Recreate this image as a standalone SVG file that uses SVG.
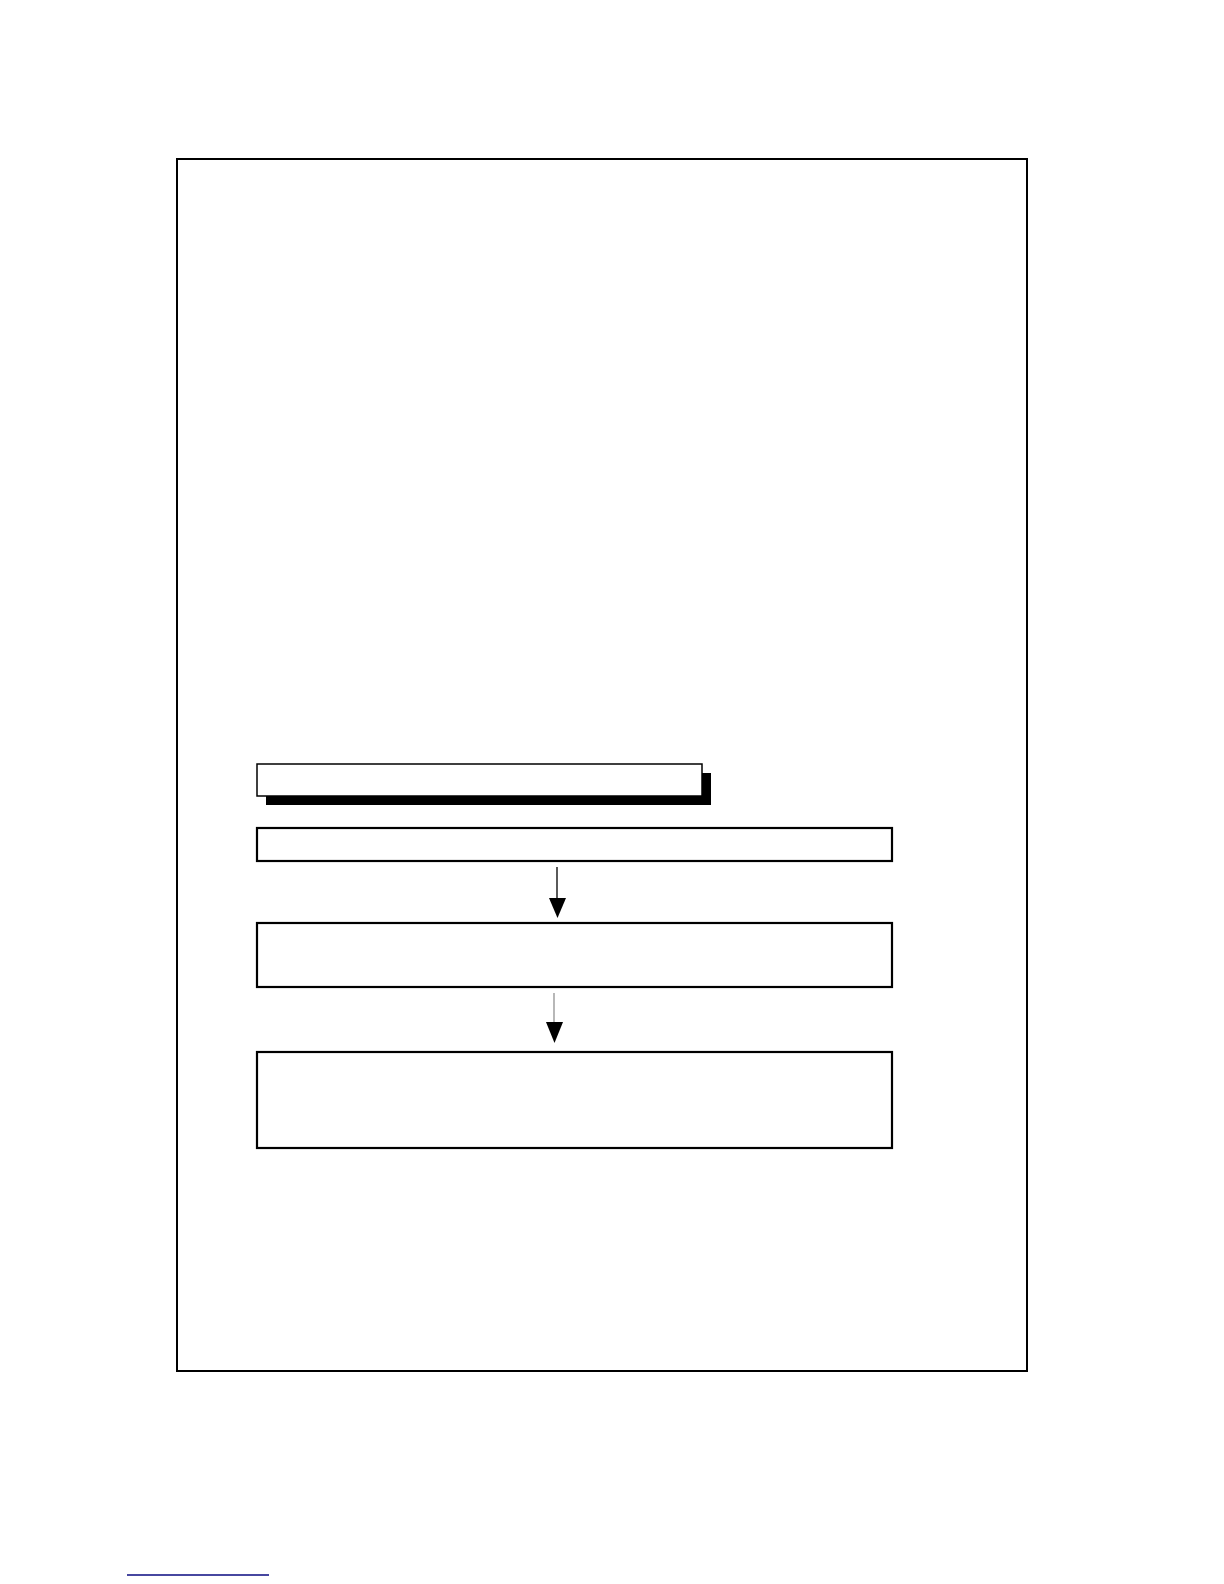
<svg xmlns="http://www.w3.org/2000/svg" width="1224" height="1584" viewBox="0 0 1224 1584">
<style>
.box{fill:#fff;stroke:#000;stroke-width:2.2}
.frame{fill:none;stroke:#000;stroke-width:2}
</style>
<rect x="0" y="0" width="1224" height="1584" fill="#fff"/>
<g id="frame"><rect class="frame" x="177" y="159" width="850" height="1212"/></g>
<g id="node-title">
<rect x="266" y="773" width="445" height="32" fill="#000"/>
<rect x="257" y="764" width="445" height="32" fill="#fff" stroke="#000" stroke-width="1.5"/>
</g>
<g id="node-1"><rect class="box" x="257" y="828" width="635" height="33"/></g>
<g id="node-2"><rect class="box" x="257" y="923" width="635" height="64"/></g>
<g id="node-3"><rect class="box" x="257" y="1052" width="635" height="96"/></g>
<g id="connectors">
<line x1="557" y1="867" x2="557" y2="900" stroke="#000" stroke-width="1.3"/>
<polygon points="549,898 566,898 557.5,918" fill="#000"/>
<line x1="554" y1="993" x2="554" y2="1024" stroke="#888" stroke-width="1.2"/>
<polygon points="546,1022 563,1022 554.5,1043" fill="#000"/>
</g>
<g id="footnote-rule"><line x1="127" y1="1575" x2="269" y2="1575" stroke="#0a0a80" stroke-width="1.6"/></g>
</svg>
